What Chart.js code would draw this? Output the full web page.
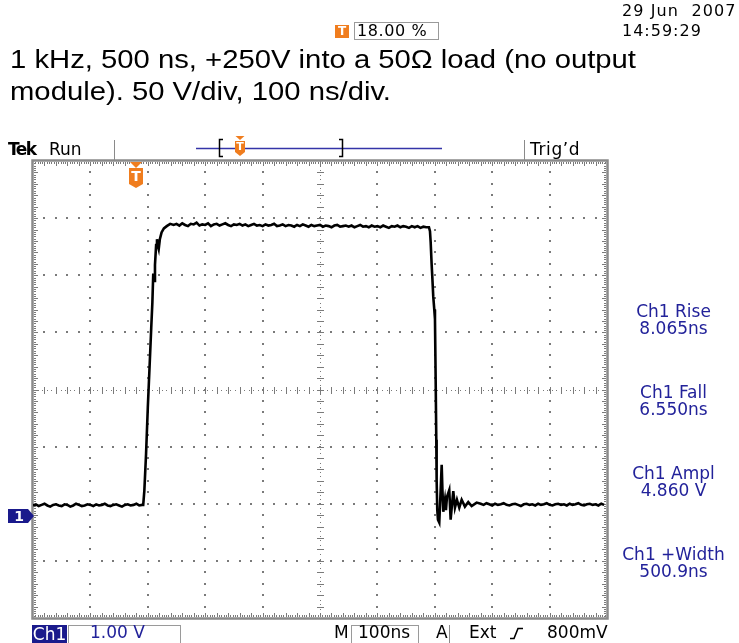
<!DOCTYPE html>
<html>
<head>
<meta charset="utf-8">
<title>1 kHz pulse into 50 ohm load</title>
<script src="https://cdn.jsdelivr.net/npm/chart.js@4.4.0/dist/chart.umd.min.js"></script>
<style>
  body { margin: 0; background: #fff; }
  #wrap { position: relative; width: 739px; height: 643px; overflow: hidden; }
  canvas { position: absolute; left: 0; top: 0; }
  .t { position: absolute; white-space: nowrap; line-height: 1; font-family: "DejaVu Sans", sans-serif; font-size: 17px; color: #000; }
  .title { position: absolute; left: 10px; top: 43px; font-family: "Liberation Sans", Arial, sans-serif; font-size: 25px; line-height: 32px; color: #000;
           white-space: nowrap; transform: scaleX(1.17); transform-origin: 0 0; }
  .meas { position: absolute; left: 608px; width: 131px; text-align: center; color: #22229a; }
  .box { position: absolute; border: 1px solid #9a9a9a; box-sizing: border-box; }
</style>
</head>
<body>
<div id="wrap">
  <canvas id="scopeChart" width="739" height="643"></canvas>
  <div class="title">1 kHz, 500 ns, +250V into a 50Ω load (no output<br>module). 50 V/div, 100 ns/div.</div>
  <div class="t" style="left:622px;top:3px;font-size:16px;letter-spacing:1.1px;">29 Jun&nbsp; 2007</div>
  <div class="t" style="left:622px;top:23px;font-size:16px;letter-spacing:1px;">14:59:29</div>
  <div class="box" style="left:354px;top:22px;width:85px;height:18px;"></div>
  <div class="t" style="left:357px;top:23px;font-size:16px;letter-spacing:0.6px;">18.00 %</div>
  <div class="t" style="left:8px;top:141px;font-weight:bold;letter-spacing:-1.5px;">Tek</div>
  <div class="t" style="left:49px;top:141px;">Run</div>
  <div class="t" style="left:530px;top:141px;letter-spacing:0.6px;">Trig’d</div>
  <div id="measurements"></div>
  <div class="t" style="left:32px;top:625px;width:35px;height:18px;background:#1a1a8c;color:#fff;text-align:center;line-height:18px;">Ch1</div>
  <div class="box" style="left:68px;top:625px;width:113px;height:19px;"></div>
  <div class="t" style="left:90px;top:624px;color:#22229a;">1.00 V</div>
  <div class="t" style="left:334px;top:624px;">M</div>
  <div class="box" style="left:351px;top:625px;width:68px;height:19px;"></div>
  <div class="t" style="left:358px;top:624px;">100ns</div>
  <div class="t" style="left:436px;top:624px;">A</div>
  <div class="t" style="left:469px;top:624px;">Ext</div>
  <div class="t" style="left:547px;top:624px;">800mV</div>
</div>
<script>
/* Scope settings */
const volts_per_div = 1.0;
const ns_per_div = 100;
const time_min_ns = -180;       // trigger at t = 0
const volts_at_top = 6.22;      // ground is 2.22 div below screen centre

/* Measurement readouts */
const measure_names = ['Ch1 Rise', 'Ch1 Fall', 'Ch1 Ampl', 'Ch1 +Width'];
const measure_values = ['8.065ns', '6.550ns', '4.860 V', '500.9ns'];

/* Trace: time in ns, level in V */
const pre_times = [-180,-175,-170,-165,-160,-155,-150,-145,-140,-135,-130,-125,-120,-115,-110,-105,-100,-95,-90,-85,
  -80,-75,-70,-65,-60,-55,-50,-45,-40,-35,-30,-25,-20,-15,-10,-5,0,5,10];
const pre_volts = [0.19,0.21,0.18,0.20,0.22,0.19,0.17,0.20,0.21,0.19,0.18,0.21,0.20,0.17,0.19,0.22,0.20,0.18,0.19,0.21,
  0.20,0.18,0.21,0.19,0.20,0.22,0.19,0.18,0.20,0.21,0.19,0.17,0.20,0.21,0.19,0.20,0.22,0.19,0.20];

const rise_times = [12,14,17,20,23,26,28,29.5,31,32.5,34.5,36,37.5,39,41,44,48,53,59,65];
const rise_volts = [0.20,0.45,1.10,1.90,2.60,3.30,3.75,4.25,4.12,4.40,4.75,4.85,4.74,4.68,4.85,4.97,5.04,5.08,5.12,5.10];

const top_times = [70,75,80,85,90,95,100,105,110,115,120,125,130,135,140,145,150,155,160,165,
  170,175,180,185,190,195,200,205,210,215,220,225,230,235,240,245,250,255,260,265,
  270,275,280,285,290,295,300,305,310,315,320,325,330,335,340,345,350,355,360,365,
  370,375,380,385,390,395,400,405,410,415,420,425,430,435,440,445,450,455,460,465,
  470,475,480,485,490,495,500,505];
const top_volts = [5.12,5.09,5.13,5.10,5.08,5.12,5.11,5.14,5.09,5.11,5.10,5.13,5.08,5.11,5.12,5.09,5.11,5.13,5.10,5.08,
  5.11,5.10,5.12,5.09,5.11,5.08,5.10,5.12,5.09,5.10,5.08,5.11,5.09,5.10,5.12,5.08,5.09,5.11,5.08,5.10,
  5.09,5.07,5.10,5.08,5.11,5.09,5.07,5.10,5.08,5.09,5.10,5.07,5.09,5.08,5.06,5.09,5.10,5.07,5.08,5.09,
  5.07,5.09,5.06,5.08,5.10,5.07,5.08,5.06,5.09,5.07,5.08,5.06,5.09,5.07,5.05,5.08,5.07,5.09,5.06,5.08,
  5.07,5.05,5.08,5.06,5.08,5.05,5.07,5.06];

const fall_times = [509.8,511.6,512.8,514.5,515.6,517.3,519.1,520.3,521.5,522.6,523.2,524.3,525.5,527.8,529.5,532,533.3,
  534.8,537.7,539.4,541.2,545.2,547.6,549.9,552.2,555.1,558.6,562.6,566.8,572.5,578.3,584.2,592.9];
const fall_volts = [5.06,4.99,4.80,4.41,4.20,3.85,3.62,3.45,2.39,1.34,0.64,0.11,-0.06,-0.11,0.29,0.90,0.46,
  0.08,0.29,0.11,0.34,0.46,-0.06,0.20,0.44,0.15,0.29,0.15,0.29,0.17,0.25,0.18,0.24];

const post_times = [600,605,610,615,620,625,630,635,640,645,650,655,660,665,670,675,680,685,690,695,
  700,705,710,715,720,725,730,735,740,745,750,755,760,765,770,775,780,785,790,795,800,805,810,815];
const post_volts = [0.22,0.20,0.23,0.21,0.19,0.22,0.20,0.21,0.23,0.20,0.19,0.21,0.22,0.20,0.18,0.21,0.22,0.20,0.21,0.19,
  0.22,0.20,0.21,0.23,0.20,0.19,0.21,0.22,0.20,0.21,0.19,0.22,0.20,0.21,0.23,0.20,0.19,0.21,0.22,0.20,
  0.21,0.19,0.22,0.20];

const toPoints = (times, volts) => times.map((t, i) => ({ x: t, y: volts[i] }));

const trace_points = [].concat(
  toPoints(pre_times, pre_volts),
  toPoints(rise_times, rise_volts),
  toPoints(top_times, top_volts),
  toPoints(fall_times, fall_volts),
  toPoints(post_times, post_volts)
);

/* Readouts on the right */
const meas_div = document.getElementById('measurements');
measure_names.forEach((name, i) => {
  const top = 304 + i * 81;
  meas_div.innerHTML +=
    '<div class="t meas" style="top:' + (top - 1) + 'px">' + name + '</div>' +
    '<div class="t meas" style="top:' + (top + 16) + 'px">' + measure_values[i] + '</div>';
});

/* Drawing helpers */
const orange = '#f07d1e';
const tek_blue = '#1a1a8c';

const drawShieldT = (ctx, cx, top, w, h, font_px) => {
  ctx.fillStyle = orange;
  ctx.beginPath();
  ctx.moveTo(cx - w / 2, top);
  ctx.lineTo(cx + w / 2, top);
  ctx.lineTo(cx + w / 2, top + h - 4);
  ctx.lineTo(cx, top + h);
  ctx.lineTo(cx - w / 2, top + h - 4);
  ctx.closePath();
  ctx.fill();
  ctx.fillStyle = '#fff';
  ctx.font = 'bold ' + font_px + 'px "DejaVu Sans"';
  ctx.textAlign = 'center';
  ctx.textBaseline = 'middle';
  ctx.fillText('T', cx, top + h / 2 - 1);
};

const drawTriangleDown = (ctx, cx, top, w, h) => {
  ctx.fillStyle = orange;
  ctx.beginPath();
  ctx.moveTo(cx - w / 2, top);
  ctx.lineTo(cx + w / 2, top);
  ctx.lineTo(cx, top + h);
  ctx.closePath();
  ctx.fill();
};

/* Graticule: 10 x 8 divisions, dotted lines, ticked centre and edges */
const graticule = {
  id: 'graticule',
  beforeDatasetsDraw(chart) {
    const ctx = chart.ctx;
    const a = chart.chartArea;
    const dx = (a.right - a.left) / 10;
    const dy = (a.bottom - a.top) / 8;
    ctx.save();
    ctx.fillStyle = '#7a7a7a';
    // dotted division lines
    for (let i = 1; i < 10; i++) {
      if (i === 5) continue;
      const x = Math.round(a.left + i * dx);
      for (let k = 1; k < 40; k++) ctx.fillRect(x - 1, Math.round(a.top + k * dy / 5) - 1, 2, 2);
    }
    for (let j = 1; j < 8; j++) {
      if (j === 4) continue;
      const y = Math.round(a.top + j * dy);
      for (let k = 1; k < 50; k++) ctx.fillRect(Math.round(a.left + k * dx / 5) - 1, y - 1, 2, 2);
    }
    // centre cross with minor ticks
    const cx = Math.round(a.left + 5 * dx);
    const cy = Math.round(a.top + 4 * dy);
    for (let k = 0; k < 250; k += 2) ctx.fillRect(Math.round(a.left + k * dx / 25), cy, 1, 1);
    for (let k = 0; k < 200; k += 2) ctx.fillRect(cx, Math.round(a.top + k * dy / 25), 1, 1);
    for (let k = 1; k < 50; k++) ctx.fillRect(Math.round(a.left + k * dx / 5), cy - 3, 1, 7);
    for (let k = 1; k < 40; k++) ctx.fillRect(cx - 3, Math.round(a.top + k * dy / 5), 7, 1);
    // edge ticks
    for (let k = 1; k < 250; k++) {
      const x = Math.round(a.left + k * dx / 25);
      const len = k % 5 === 0 ? 4 : 2;
      ctx.fillRect(x, a.top + 1, 1, len);
      ctx.fillRect(x, a.bottom - 1 - len, 1, len);
    }
    for (let k = 1; k < 200; k++) {
      const y = Math.round(a.top + k * dy / 25);
      const len = k % 5 === 0 ? 4 : 2;
      ctx.fillRect(a.left + 1, y, len, 1);
      ctx.fillRect(a.right - 1 - len, y, len, 1);
    }
    // frame
    ctx.strokeStyle = '#8a8a8a';
    ctx.lineWidth = 2.5;
    ctx.strokeRect(a.left - 0.5, a.top - 0.5, a.right - a.left + 1, a.bottom - a.top + 1);
    ctx.restore();
  },
  afterDraw(chart) {
    const ctx = chart.ctx;
    const a = chart.chartArea;
    const x_scale = chart.scales.x;
    const y_scale = chart.scales.y;
    ctx.save();

    // trigger position marker on the graticule
    const trig_x = Math.round(x_scale.getPixelForValue(0));
    drawTriangleDown(ctx, trig_x, a.top + 1, 12, 6);
    drawShieldT(ctx, trig_x, a.top + 7, 14, 20, 14);

    // channel 1 ground marker
    const gnd_y = Math.round(y_scale.getPixelForValue(0));
    ctx.fillStyle = tek_blue;
    ctx.beginPath();
    ctx.moveTo(8, gnd_y - 7);
    ctx.lineTo(28, gnd_y - 7);
    ctx.lineTo(34, gnd_y);
    ctx.lineTo(28, gnd_y + 7);
    ctx.lineTo(8, gnd_y + 7);
    ctx.closePath();
    ctx.fill();
    ctx.fillStyle = '#fff';
    ctx.font = 'bold 14px "DejaVu Sans"';
    ctx.textAlign = 'center';
    ctx.textBaseline = 'middle';
    ctx.fillText('1', 19, gnd_y + 1);

    // header: separators, record bar, brackets, trigger point
    ctx.strokeStyle = '#8a8a8a';
    ctx.lineWidth = 1;
    ctx.beginPath();
    ctx.moveTo(114.5, 140); ctx.lineTo(114.5, a.top);
    ctx.moveTo(524.5, 140); ctx.lineTo(524.5, a.top);
    ctx.moveTo(449.5, 625); ctx.lineTo(449.5, 643);
    ctx.stroke();

    ctx.strokeStyle = '#3434a8';
    ctx.lineWidth = 1.5;
    ctx.beginPath();
    ctx.moveTo(196, 148.5); ctx.lineTo(442, 148.5);
    ctx.stroke();

    ctx.strokeStyle = '#000';
    ctx.lineWidth = 1.5;
    ctx.beginPath();
    ctx.moveTo(223, 139.5); ctx.lineTo(219.5, 139.5); ctx.lineTo(219.5, 156.5); ctx.lineTo(223, 156.5);
    ctx.moveTo(339, 139.5); ctx.lineTo(342.5, 139.5); ctx.lineTo(342.5, 156.5); ctx.lineTo(339, 156.5);
    ctx.stroke();

    drawTriangleDown(ctx, 240, 136, 9, 4);
    drawShieldT(ctx, 240, 141, 10, 15, 11);

    // trigger level icon next to the percentage readout
    ctx.fillStyle = orange;
    ctx.fillRect(335, 25, 14, 13);
    ctx.fillStyle = '#fff';
    ctx.font = 'bold 12px "DejaVu Sans"';
    ctx.fillText('T', 342, 32);

    // rising edge symbol in the status bar
    ctx.strokeStyle = '#000';
    ctx.lineWidth = 1.6;
    ctx.beginPath();
    ctx.moveTo(510, 638.5); ctx.lineTo(514, 638.5);
    ctx.lineTo(518, 628.5); ctx.lineTo(523, 628.5);
    ctx.stroke();

    ctx.restore();
  }
};

/* Chart */
const scope_chart = new Chart(document.getElementById('scopeChart').getContext('2d'), {
  type: 'line',
  data: {
    datasets: [{
      label: 'Ch1',
      data: trace_points,
      borderColor: '#000',
      borderWidth: 2.6,
      pointRadius: 0,
      tension: 0,
      fill: false
    }]
  },
  options: {
    responsive: false,
    animation: false,
    layout: { padding: { left: 33, right: 132, top: 161, bottom: 25 } },
    scales: {
      x: { type: 'linear', display: false, min: time_min_ns, max: time_min_ns + 10 * ns_per_div },
      y: { type: 'linear', display: false, min: volts_at_top - 8 * volts_per_div, max: volts_at_top }
    },
    plugins: { legend: { display: false }, tooltip: { enabled: false } }
  },
  plugins: [graticule]
});
</script>
</body>
</html>
